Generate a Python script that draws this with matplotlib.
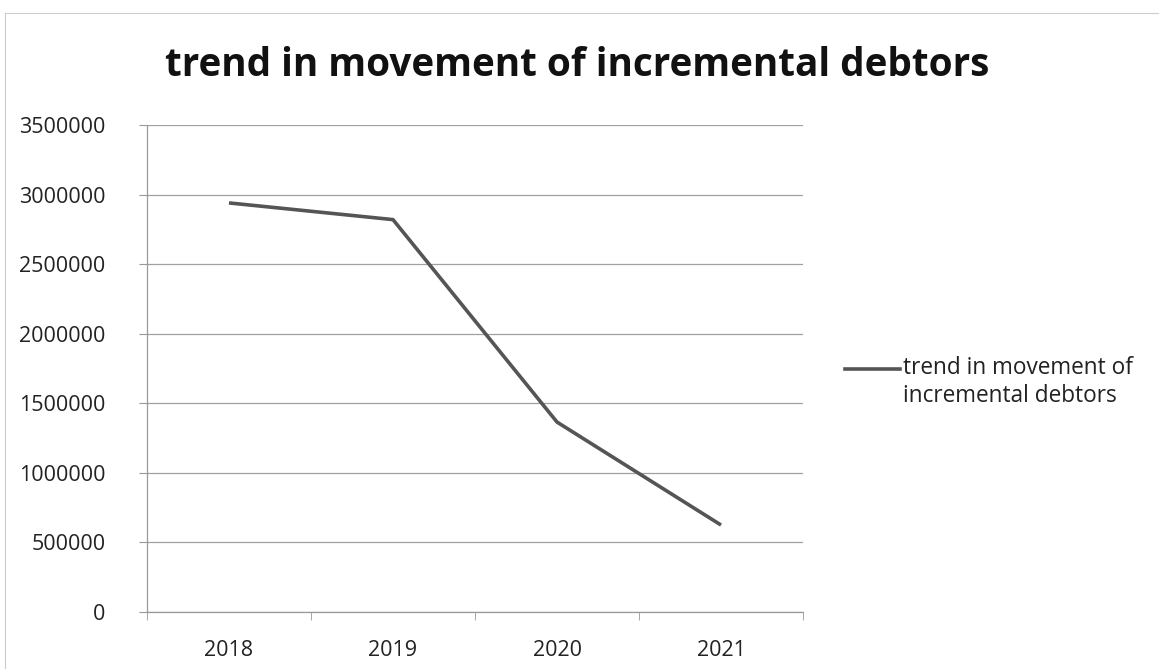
import matplotlib
matplotlib.use("Agg")
import matplotlib.pyplot as plt
from matplotlib.lines import Line2D
from matplotlib.ticker import FixedLocator, FuncFormatter

years = ["2018", "2019", "2020", "2021"]
debtors = [2940000, 2820000, 1365000, 625000]
y_ticks = [0, 500000, 1000000, 1500000, 2000000, 2500000, 3000000, 3500000]
title = "trend in movement of incremental debtors"
series_name = "trend in movement of\nincremental debtors"

plt.rcParams["font.family"] = ["Open Sans", "DejaVu Sans"]

fig = plt.figure(figsize=(11.59, 6.69), dpi=100)
ax = fig.add_axes([147 / 1159, 1 - 612 / 669, 656 / 1159, (612 - 125) / 669])

x = list(range(len(years)))
line, = ax.plot(x, debtors, color="#555555", lw=2.6, solid_capstyle="butt")

ax.set_xlim(-0.5, len(years) - 0.5)
ax.set_ylim(y_ticks[0], y_ticks[-1])
ax.set_yticks(y_ticks)
ax.yaxis.set_major_formatter(FuncFormatter(lambda v, p: f"{int(v)}"))
ax.set_xticks(x)
ax.set_xticklabels(years)
ax.xaxis.set_minor_locator(FixedLocator([i - 0.5 for i in range(len(years) + 1)]))
ax.tick_params(axis="x", which="major", length=0, pad=20, labelsize=15.5, colors="#222222")
ax.tick_params(axis="x", which="minor", length=6, color="#999999")
ax.tick_params(axis="y", length=6, color="#999999", labelsize=15.5, labelcolor="#222222", pad=24)

ax.grid(axis="y", color="#a0a0a0", lw=0.9)
ax.set_axisbelow(True)
for s in ["top", "right"]:
    ax.spines[s].set_visible(False)
for s in ["left", "bottom"]:
    ax.spines[s].set_color("#999999")
    ax.spines[s].set_linewidth(0.9)

fig.text(577 / 1159, 1 - 65 / 669, title, ha="center", va="center",
         fontsize=27.8, fontweight="bold", color="#111111")

# legend entry drawn beside the plot
fig.add_artist(Line2D([845 / 1159, 900 / 1159], [1 - 369 / 669, 1 - 369 / 669],
                      color="#555555", lw=2.6, transform=fig.transFigure))
fig.text(903 / 1159, 1 - 382 / 669, series_name, ha="left", va="center",
         fontsize=16.3, color="#222222", linespacing=1.2)

# chart area border
fig.add_artist(Line2D([5 / 1159, 5 / 1159], [0, 1 - 13 / 669], color="#cccccc",
                      lw=0.8, transform=fig.transFigure))
fig.add_artist(Line2D([5 / 1159, 1], [1 - 13 / 669, 1 - 13 / 669], color="#cccccc",
                      lw=0.8, transform=fig.transFigure))

fig.savefig("out.png", dpi=100, facecolor="white")
